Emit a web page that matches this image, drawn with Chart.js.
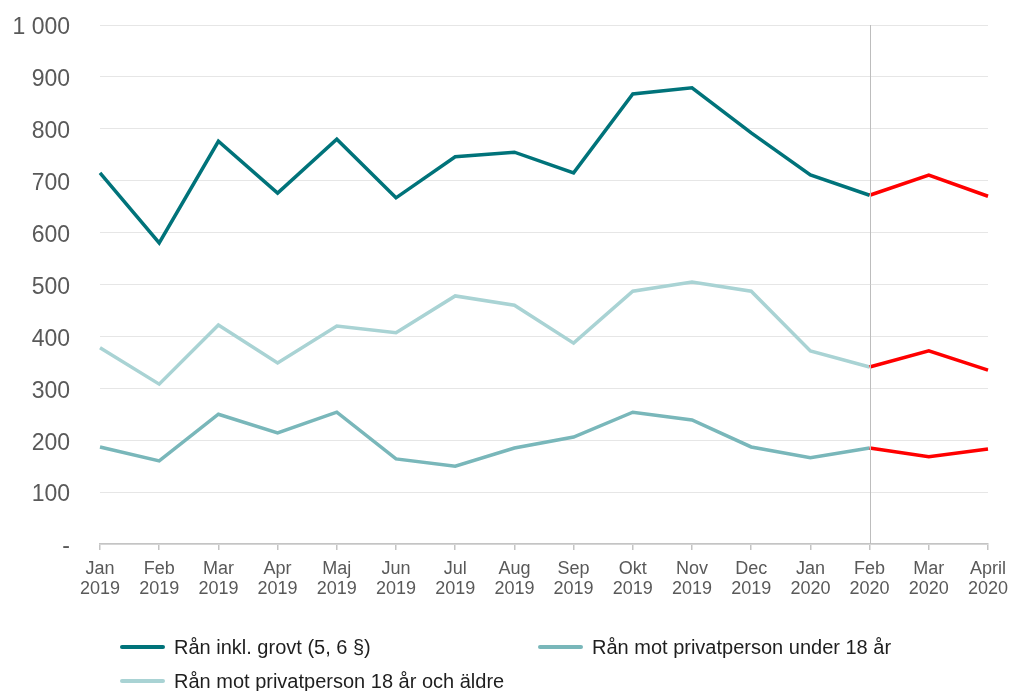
<!DOCTYPE html>
<html lang="sv">
<head>
<meta charset="utf-8">
<title>Rån per månad</title>
<script src="https://cdn.jsdelivr.net/npm/chart.js@4.4.1/dist/chart.umd.min.js"></script>
<style>
  body { margin: 0; background: #fff; font-family: "Liberation Sans", Arial, sans-serif; }
  .wrap { position: relative; width: 1010px; height: 691px; }
  .chart-box { position: absolute; left: 0; top: 0; width: 1010px; height: 610px; }
  .legend { position: absolute; left: 0; top: 0; width: 1010px; height: 691px; pointer-events: none; }
  .item { position: absolute; display: flex; align-items: center; font-size: 20px; line-height: 24px; color: #1f1f1f; }
  .item .sw { width: 45px; height: 4px; border-radius: 2px; margin-right: 9px; }
</style>
</head>
<body>
<div class="wrap">
  <div class="chart-box"><canvas id="ranChart"></canvas></div>
  <div class="legend" id="legend"></div>
</div>
<script>
const months = [["Jan","2019"],["Feb","2019"],["Mar","2019"],["Apr","2019"],["Maj","2019"],["Jun","2019"],
                ["Jul","2019"],["Aug","2019"],["Sep","2019"],["Okt","2019"],["Nov","2019"],["Dec","2019"],
                ["Jan","2020"],["Feb","2020"],["Mar","2020"],["April","2020"]];

const ranTotal   = [715, 580, 776, 676, 780, 667, 746, 755, 715, 867, 879, 792, 711, 672, 711, 670];
const ranUnder18 = [187, 160, 250, 214, 254, 164, 150, 185, 206, 254, 239, 187, 166, 185, 168, 183];
const ranOver18  = [378, 308, 422, 349, 420, 407, 478, 460, 387, 487, 505, 487, 372, 341, 372, 335];

const seriesNames = ["Rån inkl. grovt (5, 6 §)", "Rån mot privatperson under 18 år", "Rån mot privatperson 18 år och äldre"];
const seriesColors = ["#00737a", "#79b7ba", "#a9d3d4"];
const splitIndex = 13;   // from Feb 2020 the lines are red
const textGray = "#595959";

// red after the split
const redAfter = ctx => ctx.p0DataIndex >= splitIndex ? "#ff0000" : undefined;

// vertical line at Feb 2020
const splitLine = {
  id: "splitLine",
  afterDatasetsDraw(chart) {
    const x = chart.scales.x.getPixelForValue(splitIndex);
    const ctx = chart.ctx;
    ctx.save();
    ctx.strokeStyle = "#bdbdbd";
    ctx.lineWidth = 1;
    ctx.beginPath();
    ctx.moveTo(Math.round(x) + 0.5, chart.chartArea.top);
    ctx.lineTo(Math.round(x) + 0.5, chart.chartArea.bottom);
    ctx.stroke();
    ctx.restore();
  }
};

const data = [ranTotal, ranUnder18, ranOver18];
const chart = new Chart(document.getElementById("ranChart"), {
  type: "line",
  data: {
    labels: months,
    datasets: data.map((d, i) => ({
      label: seriesNames[i],
      data: d,
      borderColor: seriesColors[i],
      borderWidth: 3.5,
      pointRadius: 0,
      tension: 0,
      segment: { borderColor: redAfter }
    }))
  },
  options: {
    responsive: true,
    maintainAspectRatio: false,
    animation: false,
    layout: { padding: { top: 25, right: 22, left: 0, bottom: 0 } },
    plugins: { legend: { display: false }, tooltip: { enabled: false } },
    scales: {
      x: {
        offset: false,
        grid: { drawOnChartArea: false, drawTicks: true, tickLength: 6, color: "#c4c4c4", lineWidth: 1.5 },
        border: { color: "#c4c4c4", width: 1.5 },
        ticks: { color: textGray, font: { size: 18, family: "Liberation Sans", lineHeight: 1.1 }, padding: 9, maxRotation: 0, autoSkip: false },
        afterFit: s => { s.height = 66; s.paddingLeft = 0; s.paddingRight = 0; }
      },
      y: {
        min: 0, max: 1000,
        grid: { color: "#e6e6e6", drawTicks: false, lineWidth: 1 },
        border: { display: false },
        ticks: {
          stepSize: 100,
          color: textGray,
          padding: 30,
          labelOffset: 3,
          font: { size: 23, family: "Liberation Sans" },
          callback: v => v === 0 ? "-" : (v >= 1000 ? "1 000" : String(v))
        },
        afterFit: s => { s.width = 100; s.paddingTop = 0; s.paddingBottom = 0; }
      }
    }
  },
  plugins: [splitLine]
});

// legend below the chart, two columns
const legendPos = [[120, 647], [538, 647], [120, 681]];
const legend = document.getElementById("legend");
seriesNames.forEach((name, i) => {
  const el = document.createElement("div");
  el.className = "item";
  el.style.left = legendPos[i][0] + "px";
  el.style.top = (legendPos[i][1] - 12) + "px";
  el.innerHTML = `<span class="sw" style="background:${seriesColors[i]}"></span><span>${name}</span>`;
  legend.appendChild(el);
});
</script>
</body>
</html>
